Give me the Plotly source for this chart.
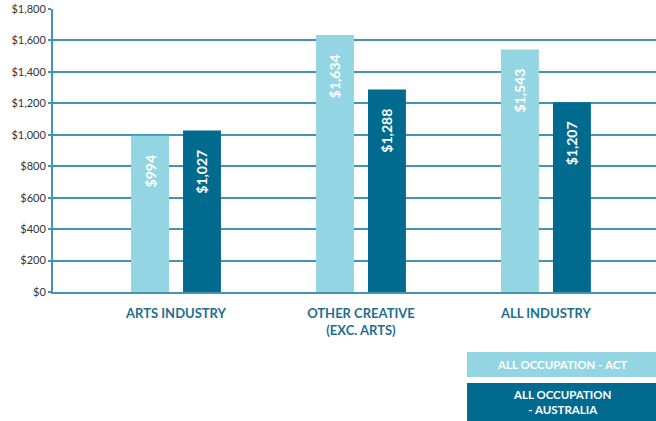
import plotly.graph_objects as go

categories = ["ARTS INDUSTRY", "OTHER CREATIVE<br>(EXC. ARTS)", "ALL INDUSTRY"]
act_values = [994, 1634, 1543]
aus_values = [1027, 1288, 1207]
series_names = ["ALL OCCUPATION - ACT", "ALL OCCUPATION<br>- AUSTRALIA"]
y_ticks = [0, 200, 400, 600, 800, 1000, 1200, 1400, 1600, 1800]

LIGHT = "#93d5e3"
DARK = "#006b8f"
GRID = "#4294b3"
FONT = "Lato"

x_pos = list(range(len(categories)))

def money(v):
    return "${:,}".format(v)

fig = go.Figure()
fig.add_trace(go.Bar(
    x=x_pos, y=act_values, name=series_names[0],
    marker=dict(color=LIGHT, line=dict(width=0)),
    width=0.205, offset=-0.243,
    text=[money(v) + "\u2007\u2007" for v in act_values],
    textposition="inside", insidetextanchor="end", textangle=-90,
    textfont=dict(color="white", size=14, family=FONT, weight="bold"),
    cliponaxis=False,
))
fig.add_trace(go.Bar(
    x=x_pos, y=aus_values, name=series_names[1],
    marker=dict(color=DARK, line=dict(width=0)),
    width=0.205, offset=0.038,
    text=[money(v) + "\u2007\u2007" for v in aus_values],
    textposition="inside", insidetextanchor="end", textangle=-90,
    textfont=dict(color="white", size=14, family=FONT, weight="bold"),
    cliponaxis=False,
))

fig.update_layout(
    width=656, height=421,
    margin=dict(l=53, r=0, t=9, b=129),
    plot_bgcolor="white", paper_bgcolor="white",
    showlegend=False,
    font=dict(family=FONT, color="#333333", size=11),
    uniformtext=dict(minsize=8, mode="show"),
)
fig.update_xaxes(
    range=[-0.665, 2.595],
    tickvals=x_pos, ticktext=categories,
    tickfont=dict(color="#1e6f8f", size=13, family=FONT, weight="bold"),
    showgrid=False, zeroline=False,
    showline=True, linecolor=GRID, linewidth=2,
    ticks="", ticklabelstandoff=8,
)
fig.update_yaxes(
    range=[0, 1800],
    tickvals=y_ticks, ticktext=[money(v) for v in y_ticks],
    showgrid=True, gridcolor=GRID, gridwidth=2,
    zeroline=False, showline=True, linecolor=GRID, linewidth=2,
    ticks="outside", tickcolor=GRID, ticklen=3, tickwidth=2,
    tickfont=dict(color="#333333", size=11, family=FONT),
    layer="below traces",
)

# Legend boxes at the lower right
legend_boxes = [
    (LIGHT, -0.212, -0.300, series_names[0]),
    (DARK, -0.3216, -0.456, series_names[1]),
]
for color, y1, y0, label in legend_boxes:
    fig.add_shape(type="rect", xref="paper", yref="paper",
                  x0=0.6866, x1=1.0, y0=y0, y1=y1,
                  fillcolor=color, line=dict(width=0), layer="above")
    fig.add_annotation(xref="paper", yref="paper",
                       x=(0.6866 + 1.0) / 2, y=(y0 + y1) / 2,
                       text=label, showarrow=False,
                       font=dict(color="white", size=11.5, family=FONT, weight="bold"),
                       align="center", xanchor="center", yanchor="middle")

fig.write_html("out.html")
